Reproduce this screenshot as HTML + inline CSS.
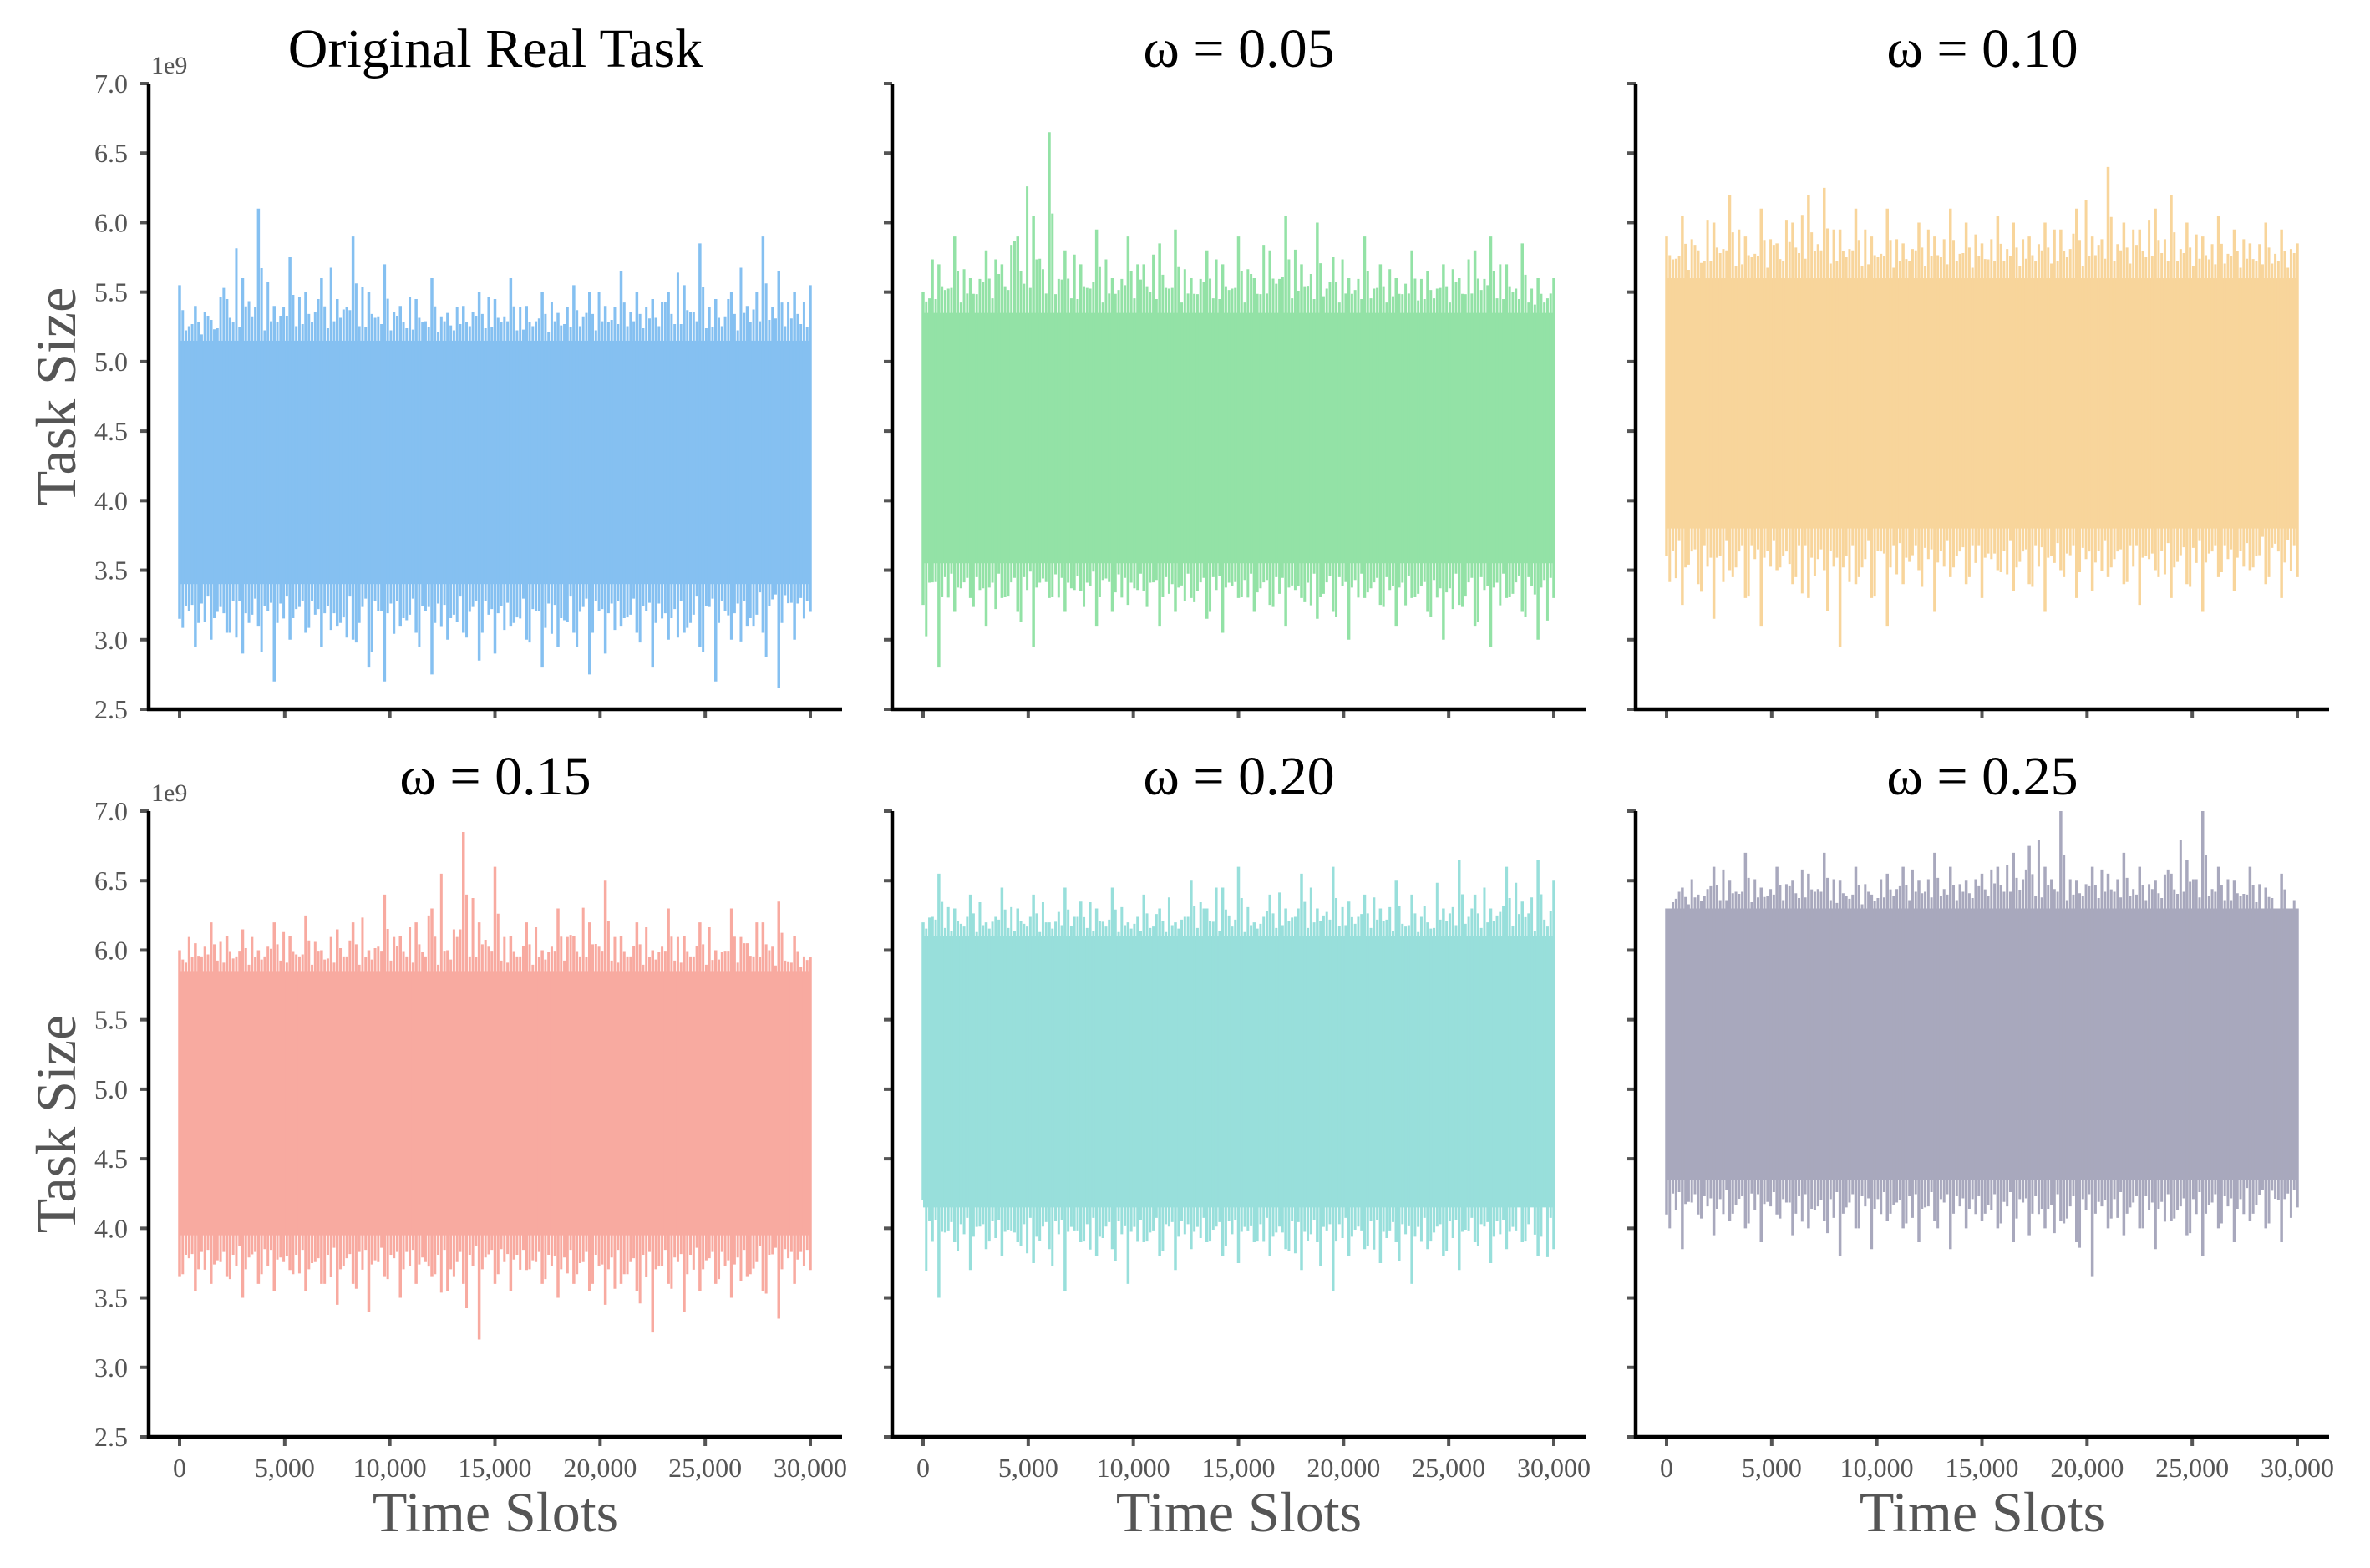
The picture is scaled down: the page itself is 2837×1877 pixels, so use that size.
<!DOCTYPE html>
<html><head><meta charset="utf-8"><style>
html,body{margin:0;padding:0;background:#fff;}
svg{display:block;}
text{font-family:"Liberation Serif",serif;}
</style></head><body>
<svg id="fig" width="2837" height="1877" viewBox="0 0 2837 1877" xmlns="http://www.w3.org/2000/svg"></svg>
<script>
const titles = ["Original Real Task","ω = 0.05","ω = 0.10","ω = 0.15","ω = 0.20","ω = 0.25"];
const colors = ["#85C0F1","#93E2A6","#F8D59B","#F8AAA0","#98DFDB","#A8A8BD"];
const yTicks = [2.5,3.0,3.5,4.0,4.5,5.0,5.5,6.0,6.5,7.0];
const yTickLabels = ["2.5","3.0","3.5","4.0","4.5","5.0","5.5","6.0","6.5","7.0"];
const xTicks = [0,5000,10000,15000,20000,25000,30000];
const xTickLabels = ["0","5,000","10,000","15,000","20,000","25,000","30,000"];
const slots = [0,750,1500,2250,3000,3750,4500,5250,6000,6750,7500,8250,9000,9750,10500,11250,12000,12750,13500,14250,15000,15750,16500,17250,18000,18750,19500,20250,21000,21750,22500,23250,24000,24750,25500,26250,27000,27750,28500,29250,30000];
const core1 = [3.4,5.15];
const core2 = [3.55,5.35];
const core3 = [3.8,5.6];
const core4 = [3.95,5.85];
const core5 = [4.15,6.1];
const core6 = [4.35,6.3];
const hi1 = [5.55,5.4,5.3,5.45,5.6,6.1,5.4,5.75,5.5,5.6,5.45,5.9,5.5,5.7,5.4,5.45,5.6,5.35,5.4,5.5,5.45,5.6,5.4,5.5,5.35,5.55,5.5,5.4,5.65,5.5,5.45,5.5,5.55,5.85,5.45,5.5,5.4,5.9,5.65,5.5,5.55];
const lo1 = [3.15,2.95,3.0,3.05,2.9,3.1,2.7,3.0,3.05,2.95,3.1,3.0,2.8,2.7,3.1,3.05,2.75,3.0,3.05,2.85,2.9,3.1,3.0,2.8,2.95,3.05,2.75,2.9,3.1,3.05,2.8,3.0,3.05,2.95,2.7,3.0,3.1,3.05,2.65,3.0,3.2];
const hi2 = [5.5,5.7,5.9,5.6,5.8,5.7,5.9,6.05,6.65,5.8,5.7,5.95,5.6,5.9,5.7,5.85,5.95,5.6,5.8,5.7,5.9,5.6,5.8,6.05,5.7,6.0,5.75,5.6,5.9,5.7,5.6,5.8,5.65,5.7,5.6,5.8,5.9,5.7,5.85,5.6,5.6];
const lo2 = [3.25,2.8,3.2,3.3,3.1,3.3,3.2,2.95,3.3,3.2,3.35,3.1,3.2,3.25,3.35,3.1,3.2,3.3,3.15,3.05,3.3,3.2,3.25,3.1,3.3,3.15,3.2,3.0,3.3,3.25,3.1,3.3,3.2,3.0,3.25,3.1,2.95,3.3,3.2,3.0,3.3];
const hi3 = [5.9,6.05,5.8,6.0,6.2,5.9,6.1,5.85,6.0,6.2,6.25,5.95,6.1,5.9,6.1,5.85,6.0,5.9,6.1,6.0,5.85,6.05,6.0,5.9,6.0,5.95,6.1,5.9,6.4,6.0,5.95,6.1,6.2,6.0,5.9,6.05,5.95,5.85,6.0,5.95,5.85];
const lo3 = [3.6,3.25,3.4,3.15,3.5,3.3,3.1,3.5,3.4,3.3,3.5,2.95,3.4,3.3,3.1,3.4,3.5,3.2,3.45,3.4,3.3,3.5,3.35,3.4,3.2,3.5,3.3,3.35,3.45,3.4,3.25,3.5,3.3,3.4,3.2,3.45,3.35,3.5,3.4,3.3,3.45];
const hi4 = [6.0,6.05,6.2,6.1,6.15,6.0,6.2,6.1,6.25,6.0,6.15,6.2,6.0,6.4,6.1,6.2,6.3,6.0,6.85,6.2,6.6,6.1,6.2,6.0,6.3,6.1,6.2,6.5,6.1,6.2,6.0,6.3,6.1,6.2,6.0,6.3,6.05,6.2,6.35,6.1,5.95];
const lo4 = [3.65,3.55,3.6,3.65,3.5,3.6,3.55,3.7,3.55,3.6,3.45,3.6,3.4,3.65,3.5,3.6,3.65,3.55,3.6,3.2,3.6,3.55,3.7,3.6,3.5,3.6,3.55,3.45,3.6,3.55,3.25,3.6,3.4,3.55,3.6,3.5,3.65,3.55,3.35,3.6,3.7];
const hi5 = [6.2,6.55,6.3,6.4,6.2,6.45,6.3,6.4,6.2,6.45,6.35,6.3,6.45,6.2,6.4,6.3,6.2,6.5,6.3,6.45,6.6,6.2,6.4,6.3,6.55,6.3,6.6,6.35,6.4,6.3,6.5,6.4,6.2,6.3,6.65,6.4,6.3,6.6,6.35,6.65,6.5];
const lo5 = [4.2,3.5,3.9,3.7,3.85,3.8,3.9,3.75,3.85,3.55,3.9,3.8,3.85,3.6,3.9,3.8,3.7,3.85,3.9,3.8,3.75,3.9,3.8,3.85,3.7,3.9,3.55,3.8,3.85,3.75,3.9,3.6,3.85,3.8,3.7,3.9,3.75,3.85,3.9,3.8,3.85];
const hi6 = [6.3,6.45,6.4,6.6,6.5,6.7,6.45,6.6,6.5,6.55,6.7,6.5,6.6,6.4,6.55,6.6,6.5,6.7,6.6,6.5,6.55,6.6,6.7,6.75,6.6,7.0,6.5,6.6,6.55,6.7,6.6,6.5,6.55,6.65,7.0,6.6,6.5,6.6,6.45,6.55,6.3];
const lo6 = [4.1,3.85,4.1,3.95,4.05,4.0,3.9,4.1,3.95,4.0,4.05,3.8,4.0,3.85,4.05,4.0,3.9,4.05,3.85,4.0,4.05,4.0,3.9,3.95,4.0,4.05,3.9,3.65,4.0,3.95,4.0,3.85,4.05,3.95,3.8,4.0,3.9,4.05,4.0,3.9,4.15];

const cores=[core1,core2,core3,core4,core5,core6];
const his=[hi1,hi2,hi3,hi4,hi5,hi6];
const los=[lo1,lo2,lo3,lo4,lo5,lo6];
const subFrac=[0.2,0.4,0.6,0.8];
const subScale=[0.55,0.3,0.7,0.4];

const NS="http://www.w3.org/2000/svg";
const svg=document.getElementById('fig');
function mk(tag,attrs,parent){const e=document.createElementNS(NS,tag);for(const k in attrs)e.setAttribute(k,attrs[k]);(parent||svg).appendChild(e);return e;}

const colX=[178,1068,1958];
const rowTop=[100,971];
const rowBot=[849,1720];

for(let p=0;p<6;p++){
  const r=Math.floor(p/3), c=p%3;
  const sx=colX[c], top=rowTop[r], bot=rowBot[r];
  const xS=v=>sx+37+(v/30000)*755;
  const yS=v=>bot-(v-2.5)/(7.0-2.5)*(bot-top);
  const g=mk('g',{});
  
  
  const core=cores[p];
  const band=mk('rect',{x:xS(slots[0]),y:yS(core[1]),width:xS(slots[slots.length-1])-xS(slots[0]),height:yS(core[0])-yS(core[1]),fill:colors[p]},g);
  
  
  const hi=his[p], lo=los[p];
  for(let i=0;i<slots.length;i++){
    const ln=mk('line',{x1:xS(slots[i]),x2:xS(slots[i]),y1:yS(hi[i]),y2:yS(lo[i]),stroke:colors[p],'stroke-width':3.5},g);
    
    
    if(i<slots.length-1){
      for(let k=0;k<subFrac.length;k++){
        const t=slots[i]+(slots[i+1]-slots[i])*subFrac[k];
        const h=core[1]+(hi[(i+k)%hi.length]-core[1])*subScale[k];
        const l=core[0]-(core[0]-lo[(i+k+1)%lo.length])*subScale[(k+2)%4];
        const ln2=mk('line',{x1:xS(t),x2:xS(t),y1:yS(h),y2:yS(l),stroke:colors[p],'stroke-width':3},g);
        
        
      }
    }
  }
  yTicks.forEach((v,i)=>{
    const t=mk('line',{x1:sx-10,x2:sx,y1:yS(v),y2:yS(v),stroke:'#555','stroke-width':4},g);
    
    
    if(c===0){
      const tl=mk('text',{x:sx-25,y:yS(v)+11,'font-size':32,fill:'#555','text-anchor':'end'},g);
      tl.textContent=yTickLabels[i];
      
      
    }
  });
  xTicks.forEach((v,i)=>{
    const t=mk('line',{x1:xS(v),x2:xS(v),y1:bot,y2:bot+11,stroke:'#555','stroke-width':4},g);
    
    
    if(r===1){
      const tl=mk('text',{x:xS(v),y:1768,'font-size':32,fill:'#555','text-anchor':'middle'},g);
      tl.textContent=xTickLabels[i];
      
      
    }
  });
  const ys=mk('line',{x1:sx,x2:sx,y1:top,y2:bot+2,stroke:'#000','stroke-width':4.5},g);
  
  
  const xs=mk('line',{x1:sx-2,x2:sx+830,y1:bot,y2:bot,stroke:'#000','stroke-width':4.5},g);
  
  
  const tt=mk('text',{x:sx+415,y:top-20,'font-size':66,fill:'#000','text-anchor':'middle'},g);
  tt.textContent=titles[p];
  
  
  if(c===0){
    const off=mk('text',{x:sx+3,y:top-12,'font-size':30,fill:'#555'},g);
    off.textContent='1e9';
    
    
    const yl=mk('text',{x:0,y:0,'font-size':68,fill:'#555','text-anchor':'middle',transform:'translate(90,'+((top+bot)/2)+') rotate(-90)'},g);
    yl.textContent='Task Size';
    
    
  }
  if(r===1){
    const xl=mk('text',{x:sx+415,y:1833,'font-size':68,fill:'#555','text-anchor':'middle'},g);
    xl.textContent='Time Slots';
    
    
  }
}
</script>
</body></html>
